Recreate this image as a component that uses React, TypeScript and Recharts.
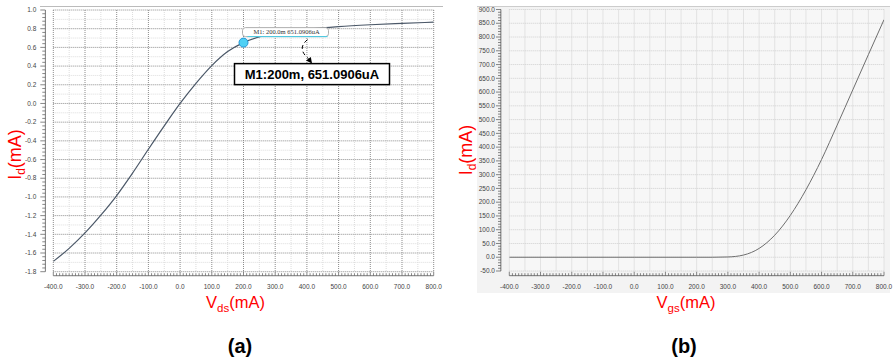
import React from 'react';
import { LineChart, Line, XAxis, YAxis, CartesianGrid, ReferenceLine, ReferenceDot } from 'recharts';

// (a) Id vs Vds
const vdsValues = [-400, -350, -300, -250, -200, -150, -100, -50, 0, 50, 100, 150, 200, 250, 300, 350, 400, 500, 600, 700, 800];
const idValuesA = [-1.69, -1.55, -1.385, -1.195, -0.985, -0.745, -0.49, -0.24, 0.0, 0.215, 0.405, 0.555, 0.651, 0.712, 0.745, 0.772, 0.792, 0.822, 0.842, 0.857, 0.87];

// (b) Id vs Vgs
const vgsValues = [-400, -200, 0, 200, 250, 300, 350, 400, 450, 500, 550, 600, 650, 700, 750, 800];
const idValuesB = [0, 0, 0, 0, 0, 1, 8, 32, 80, 152, 245, 355, 480, 608, 736, 863];

const xTicksA = [-400, -300, -200, -100, 0, 100, 200, 300, 400, 500, 600, 700, 800];
const yTicksA = [-1.8, -1.6, -1.4, -1.2, -1.0, -0.8, -0.6, -0.4, -0.2, 0.0, 0.2, 0.4, 0.6, 0.8, 1.0];
const xTicksB = [-400, -300, -200, -100, 0, 100, 200, 300, 400, 500, 600, 700, 800];
const yTicksB = [-50, 0, 50, 100, 150, 200, 250, 300, 350, 400, 450, 500, 550, 600, 650, 700, 750, 800, 850, 900];

const markerX = 200;
const markerY = 0.651;
const markerLabel = 'M1: 200.0m 651.0906uA';
const markerBox = 'M1:200m, 651.0906uA';

const dataA = vdsValues.map((x, i) => ({ x, y: idValuesA[i] }));
const dataB = vgsValues.map((x, i) => ({ x, y: idValuesB[i] }));

// split each major step into n parts (ruler ticks / minor grid)
const subdivide = (majors: number[], n: number) => {
  const out: number[] = [];
  for (let i = 0; i < majors.length - 1; i++) {
    const step = (majors[i + 1] - majors[i]) / n;
    for (let k = 0; k < n; k++) out.push(Math.round((majors[i] + k * step) * 1e6) / 1e6);
  }
  out.push(majors[majors.length - 1]);
  return out;
};

const isIn = (list: number[], v: number) => list.some((m) => Math.abs(m - v) < 1e-6);
const tickFont = '"Liberation Sans", Arial, sans-serif';

const makeXTick = (majors: number[], gap: number) => (props: any) => {
  const { x, y, payload } = props;
  const major = isIn(majors, payload.value);
  return (
    <g>
      <line x1={x} x2={x} y1={y + gap - (major ? 4 : 2.5)} y2={y + gap} stroke="#555" strokeWidth={0.7} />
      {major && (
        <text x={x} y={y + 17.5} textAnchor="middle" fontSize={6.5} fill="#444" fontFamily={tickFont}>
          {payload.value.toFixed(1)}
        </text>
      )}
    </g>
  );
};

const makeYTick = (majors: number[], gap: number, labelGap: number) => (props: any) => {
  const { x, y, payload } = props;
  const major = isIn(majors, payload.value);
  return (
    <g>
      <line x1={x - gap - (major ? 5 : 3)} x2={x - gap} y1={y} y2={y} stroke="#555" strokeWidth={0.7} />
      {major && (
        <text x={x - gap - labelGap} y={y + 2.2} textAnchor="end" fontSize={6.5} fill="#444" fontFamily={tickFont}>
          {payload.value.toFixed(1)}
        </text>
      )}
    </g>
  );
};

const MarkerShape = (props: any) => {
  const { cx, cy } = props;
  return (
    <g>
      <rect x={cx - 1} y={cy - 15} width={86} height={9} rx={3} fill="#fff" stroke="#999" strokeWidth={0.8} />
      <line x1={cx + 4} x2={cx + 84} y1={cy - 6} y2={cy - 6} stroke="#45cce6" strokeWidth={1} />
      <text x={cx + 10} y={cy - 8.3} fontSize={6.5} fill="#333" fontFamily='"Liberation Serif", serif'>
        {markerLabel}
      </text>
      <circle cx={cx} cy={cy} r={4.5} fill="#4fd0f4" stroke="#1f95d6" strokeWidth={1} />
      <path d={`M ${cx + 64} ${cy - 3} Q ${cx + 53} ${cy + 6} ${cx + 65} ${cy + 16}`} fill="none" stroke="#000" strokeWidth={1} strokeDasharray="4 3" />
      <polygon points={`${cx + 68.5},${cy + 21} ${cx + 67.3},${cy + 14.4} ${cx + 62.5},${cy + 18}`} fill="#000" />
      <rect x={cx - 9} y={cy + 21} width={155} height={21} fill="#fff" stroke="#000" strokeWidth={1.5} />
      <text x={cx + 68.5} y={cy + 36} textAnchor="middle" fontSize={13} fontWeight="bold" fill="#000" fontFamily={tickFont}>
        {markerBox}
      </text>
    </g>
  );
};

const titleFont = '"Liberation Sans", Arial, sans-serif';

const App = () => {
  const xMinorA = subdivide(xTicksA, 10);
  const yMinorA = subdivide(yTicksA, 5);
  const xMinorB = subdivide(xTicksB, 10);
  const yMinorB = subdivide(yTicksB, 5);
  const xHalfA = subdivide(xTicksA, 2).filter((v) => !isIn(xTicksA, v));
  const yHalfA = subdivide(yTicksA, 2).filter((v) => !isIn(yTicksA, v));
  const xGridB = subdivide(xTicksB, 2);

  return (
    <div style={{ position: 'absolute', left: 0, top: 0, width: 893, height: 358, background: '#fff' }}>
      <div style={{ position: 'absolute', left: 40, top: 6, width: 403, height: 1, background: '#bbb' }} />
      <div style={{ position: 'absolute', left: 477, top: 6, width: 413, height: 286, background: '#f3f3f3', borderTop: '1px solid #ccc' }} />

      <div style={{ position: 'absolute', left: 0, top: 0 }}>
        <LineChart width={450} height={300} data={dataA} margin={{ top: 10, right: 16.3, left: 8.3, bottom: 8.3 }}>
          <CartesianGrid horizontalValues={yHalfA} verticalValues={xHalfA} stroke="#dcdcdc" strokeDasharray="1 1" />
          <CartesianGrid horizontalValues={yTicksA} verticalValues={xTicksA} stroke="#8c8c8c" strokeDasharray="1 1" />
          <XAxis dataKey="x" type="number" domain={[-400, 800]} allowDataOverflow ticks={xMinorA} interval={0}
            height={20} axisLine={false} tickLine={false} tickSize={0} tickMargin={0} tick={makeXTick(xTicksA, 4)} />
          <YAxis type="number" domain={[-1.8, 1.0]} allowDataOverflow ticks={yMinorA} interval={0}
            width={45} axisLine={false} tickLine={false} tickSize={0} tickMargin={0} tick={makeYTick(yTicksA, 8, 9)} />
          <ReferenceLine segment={[{ x: -400, y: -1.843 }, { x: 800, y: -1.843 }]} ifOverflow="visible" stroke="#555" strokeWidth={0.8} />
          <ReferenceLine segment={[{ x: -425, y: -1.8 }, { x: -425, y: 1.0 }]} ifOverflow="visible" stroke="#555" strokeWidth={0.8} />
          <Line type="monotone" dataKey="y" stroke="#4b5868" strokeWidth={1.2} dot={false} isAnimationActive={false} />
          <ReferenceDot x={markerX} y={markerY} r={4.5} shape={(p: any) => <MarkerShape {...p} />} />
        </LineChart>
      </div>

      <div style={{ position: 'absolute', left: 440, top: 0 }}>
        <LineChart width={453} height={300} data={dataB} margin={{ top: 9.5, right: 9, left: 24.3, bottom: 9 }}>
          <CartesianGrid horizontalValues={yTicksB} verticalValues={xGridB} stroke="#cfcfcf" strokeDasharray="1 1" fill="#f7f7f7" />
          <XAxis dataKey="x" type="number" domain={[-400, 800]} allowDataOverflow ticks={xMinorB} interval={0}
            height={20} axisLine={false} tickLine={false} tickSize={0} tickMargin={0} tick={makeXTick(xTicksB, 4.7)} />
          <YAxis type="number" domain={[-50, 900]} allowDataOverflow ticks={yMinorB} interval={0}
            width={45} axisLine={false} tickLine={false} tickSize={0} tickMargin={0} tick={makeYTick(yTicksB, 8.3, 6)} />
          <ReferenceLine segment={[{ x: -400, y: -67 }, { x: 800, y: -67 }]} ifOverflow="visible" stroke="#555" strokeWidth={0.8} />
          <ReferenceLine segment={[{ x: -427, y: -50 }, { x: -427, y: 900 }]} ifOverflow="visible" stroke="#555" strokeWidth={0.8} />
          <Line type="monotone" dataKey="y" stroke="#6e6e6e" strokeWidth={1} dot={false} isAnimationActive={false} />
        </LineChart>
      </div>

      <svg width={893} height={358} style={{ position: 'absolute', left: 0, top: 0, pointerEvents: 'none' }}>
        <text transform="translate(21,154.5) rotate(-90)" textAnchor="middle" fontSize={18} fill="#ff0000" fontFamily={titleFont}>
          <tspan>I</tspan><tspan dy={4} fontSize={12}>d</tspan><tspan dy={-4}>(mA)</tspan>
        </text>
        <text transform="translate(472,150) rotate(-90)" textAnchor="middle" fontSize={18} fill="#ff0000" fontFamily={titleFont}>
          <tspan>I</tspan><tspan dy={4} fontSize={12}>d</tspan><tspan dy={-4}>(mA)</tspan>
        </text>
        <text x={235.5} y={308.3} textAnchor="middle" fontSize={16.5} fill="#ff0000" fontFamily={titleFont}>
          <tspan>V</tspan><tspan dy={4} fontSize={11.5}>ds</tspan><tspan dy={-4}>(mA)</tspan>
        </text>
        <text x={686} y={308.3} textAnchor="middle" fontSize={16.5} fill="#ff0000" fontFamily={titleFont}>
          <tspan>V</tspan><tspan dy={4} fontSize={11.5}>gs</tspan><tspan dy={-4}>(mA)</tspan>
        </text>
        <text x={240} y={353} textAnchor="middle" fontSize={20} fontWeight="bold" fill="#000" fontFamily={titleFont}>(a)</text>
        <text x={684} y={353} textAnchor="middle" fontSize={20} fontWeight="bold" fill="#000" fontFamily={titleFont}>(b)</text>
      </svg>
    </div>
  );
};

export default App;
